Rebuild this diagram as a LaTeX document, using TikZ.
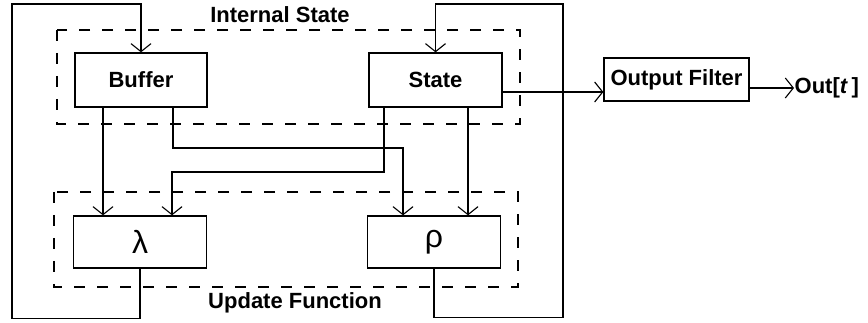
\documentclass[tikz,border=0pt]{standalone}
\usepackage{fontspec}
\setmainfont{Liberation Sans}
\usetikzlibrary{arrows.meta}
\begin{document}
\begin{tikzpicture}[x=1pt,y=-1pt,
  line width=1.3pt,
  >={Straight Barb[length=8pt,width=20pt,line width=1.1pt]},
  blk/.style={draw,rectangle,inner sep=0pt,font=\fontsize{22}{26}\selectfont\bfseries},
  fn/.style={draw,rectangle,inner sep=0pt,minimum width=133pt,minimum height=52pt,font=\fontsize{32}{36}\selectfont},
  dashbox/.style={draw,dash pattern=on 11pt off 12pt,line width=1.2pt},
  lbl/.style={font=\fontsize{22}{26}\selectfont\bfseries,inner sep=0pt}]
\useasboundingbox (0,0) rectangle (868,323);
% group frames
\draw[dashbox] (57,30) rectangle (520,124);
\draw[dashbox] (54,192) rectangle (518,287);
\node[lbl] (lis) at (280,15) {Internal State};
\node[lbl] (luf) at (295,303) {Update Function};
% blocks
\node[blk,minimum width=132pt,minimum height=54pt] (buf) at (141,80) {Buffer};
\node[blk,minimum width=133pt,minimum height=54pt] (st) at (435.5,80) {State};
\node[blk,minimum width=145pt,minimum height=43pt] (of) at (676.5,79.5) {Output Filter};
\node[fn] (lam) at (140,242) {λ};
\node[fn] (rho) at (434,242) {ρ};
\node[lbl,anchor=west] (out) at (794,88) {Out[\textit{t}\,]};
% helper coordinates
\coordinate (xbl) at (103,0);
\coordinate (xbr) at (173,0);
\coordinate (xsl) at (384,0);
\coordinate (xsr) at (468,0);
\coordinate (j1) at (403,148);
\coordinate (j2) at (172,172);
\coordinate (fbl) at (12,4);
\coordinate (fbr) at (563,4);
\coordinate (yo) at (0,92);
\coordinate (yo2) at (0,88);
% connectors
\draw[->] (lam.south) -- ++(0,50) -| (fbl) -| (buf.north);
\draw[->] (rho.south) -- ++(0,49) -| (fbr) -| (st.north);
\draw[->] (buf.south -| xbl) -- (lam.north -| xbl);
\draw[->] (buf.south -| xbr) |- (j1) -- (rho.north -| j1);
\draw[->] (st.south -| xsl) |- (j2) -- (lam.north -| j2);
\draw[->] (st.south -| xsr) -- (rho.north -| xsr);
\draw[->] (st.east |- yo) -- (of.west |- yo);
\draw[->] (of.east |- yo2) -- (out.west);
\end{tikzpicture}
\end{document}
